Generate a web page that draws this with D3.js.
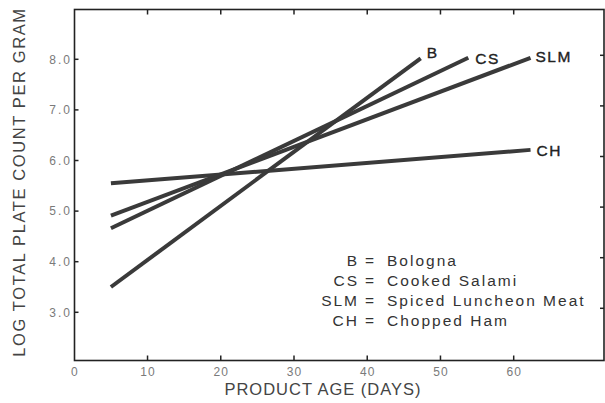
<!DOCTYPE html>
<html>
<head>
<meta charset="utf-8">
<script src="https://cdn.jsdelivr.net/npm/d3@7"></script>
<style>
  body { margin: 0; background: #fff; }
  text { font-family: "Liberation Sans", Arial, sans-serif; }
</style>
</head>
<body>
<div id="data"></div>
<script>
// product age (days) at start / end of each regression line
var series = ["B", "CS", "SLM", "CH"];
var names = ["Bologna", "Cooked Salami", "Spiced Luncheon Meat", "Chopped Ham"];
var startAge = [5, 5, 5, 5];
var endAge = [47.3, 53.8, 62.3, 62.3];
var startLog = [3.5, 4.66, 4.91, 5.55];
var endLog = [8.02, 8.03, 8.03, 6.21];
var xTicks = [0, 10, 20, 30, 40, 50, 60];
var yTicks = [3, 4, 5, 6, 7, 8];

var W = 605, H = 403;
var svg = d3.select("#data").append("svg").attr("width", W).attr("height", H);

var x = d3.scaleLinear().domain([0, 60]).range([74.3, 513.7]);
var y = d3.scaleLinear().domain([3, 8]).range([312.3, 59.3]);
var fL = 74.5, fR = 604, fT = 9.5, fB = 360.5;
var ink = "#3a3a3a";

// frame
svg.append("rect")
    .attr("x", fL).attr("y", fT)
    .attr("width", fR - fL).attr("height", fB - fT)
    .attr("fill", "none").attr("stroke", "#222").attr("stroke-width", 1.6);

// inward ticks on all four sides
var g = svg.append("g").attr("stroke", "#222").attr("stroke-width", 1.5);
g.selectAll(".xb").data(xTicks.slice(1)).enter().append("line")
    .attr("x1", function(d) { return x(d); }).attr("x2", function(d) { return x(d); })
    .attr("y1", fB).attr("y2", fB - 5);
g.selectAll(".xt").data(xTicks.slice(1)).enter().append("line")
    .attr("x1", function(d) { return x(d); }).attr("x2", function(d) { return x(d); })
    .attr("y1", fT).attr("y2", fT + 5);
g.selectAll(".yl").data(yTicks).enter().append("line")
    .attr("x1", fL).attr("x2", fL + 4)
    .attr("y1", function(d) { return y(d); }).attr("y2", function(d) { return y(d); });
g.selectAll(".yr").data(yTicks).enter().append("line")
    .attr("x1", fR).attr("x2", fR - 4)
    .attr("y1", function(d) { return y(d) - 4; }).attr("y2", function(d) { return y(d) - 4; });

// tick labels
svg.selectAll(".xl").data(xTicks).enter().append("text")
    .attr("x", function(d) { return x(d) + 0.5; })
    .attr("y", 376)
    .attr("text-anchor", "middle")
    .attr("font-size", 12)
    .attr("letter-spacing", 1)
    .attr("fill", "#7a7a7a")
    .text(function(d) { return d; });

svg.selectAll(".ylab").data(yTicks).enter().append("text")
    .attr("x", 72)
    .attr("y", function(d) { return y(d); })
    .attr("dy", "0.35em")
    .attr("text-anchor", "end")
    .attr("font-size", 12)
    .attr("letter-spacing", 2)
    .attr("fill", "#7a7a7a")
    .text(function(d) { return d3.format(".1f")(d); });

// axis titles
svg.append("text")
    .attr("x", 323).attr("y", 395)
    .attr("text-anchor", "middle")
    .attr("font-size", 16.5)
    .attr("letter-spacing", 1)
    .attr("fill", "#444")
    .text("PRODUCT AGE (DAYS)");

svg.append("text")
    .attr("transform", "translate(25,182) rotate(-90)")
    .attr("text-anchor", "middle")
    .attr("font-size", 16.5)
    .attr("letter-spacing", 1.6)
    .attr("fill", "#444")
    .text("LOG TOTAL PLATE COUNT PER GRAM");

// regression lines
var lines = series.map(function(s, i) {
  return {id: s, x0: startAge[i], y0: startLog[i], x1: endAge[i], y1: endLog[i]};
});
svg.selectAll(".line").data(lines).enter().append("line")
    .attr("x1", function(d) { return x(d.x0); })
    .attr("y1", function(d) { return y(d.y0); })
    .attr("x2", function(d) { return x(d.x1); })
    .attr("y2", function(d) { return y(d.y1); })
    .attr("stroke", ink)
    .attr("stroke-width", 4);

// end labels
var labelOff = {B: [6, 0], CS: [7, 6], SLM: [5, 4], CH: [6, 6]};
svg.selectAll(".endlab").data(lines).enter().append("text")
    .attr("x", function(d) { return x(d.x1) + labelOff[d.id][0]; })
    .attr("y", function(d) { return y(d.y1) + labelOff[d.id][1]; })
    .attr("font-size", 15.5)
    .attr("letter-spacing", 1.5)
    .attr("fill", "#222")
    .attr("stroke", "#222")
    .attr("stroke-width", 0.35)
    .text(function(d) { return d.id; });

// key
var key = svg.append("g").attr("font-size", 15.5).attr("letter-spacing", 2).attr("fill", "#333");
key.selectAll(".ka").data(series).enter().append("text")
    .attr("x", 359).attr("y", function(d, i) { return 266 + i * 20; })
    .attr("text-anchor", "end")
    .text(function(d) { return d; });
key.selectAll(".kb").data(series).enter().append("text")
    .attr("x", 365).attr("y", function(d, i) { return 266 + i * 20; })
    .text("=");
key.selectAll(".kc").data(names).enter().append("text")
    .attr("x", 387).attr("y", function(d, i) { return 266 + i * 20; })
    .text(function(d) { return d; });
</script>
</body>
</html>
